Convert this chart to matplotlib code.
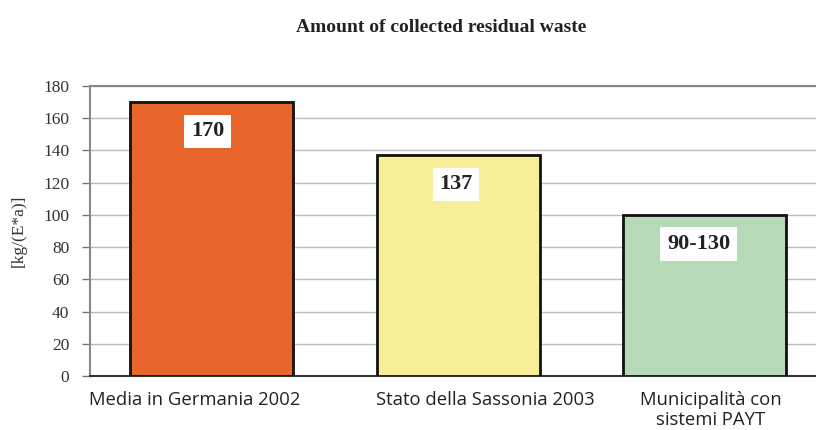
import matplotlib
matplotlib.use("Agg")
import matplotlib.pyplot as plt
from matplotlib.transforms import ScaledTranslation

categories = ["Media in Germania 2002", "Stato della Sassonia 2003", "Municipalità con\nsistemi PAYT"]
values = [170, 137, 100]
value_labels = ["170", "137", "90-130"]
colors = ["#E8652A", "#F7EF98", "#B6DAB8"]
yticks = [0, 20, 40, 60, 80, 100, 120, 140, 160, 180]

fig = plt.figure(figsize=(8.16, 4.30), dpi=100)
ax = fig.add_axes([90/816, 1 - 376/430, 1 - 90/816, (376 - 86)/430])

xs = list(range(len(categories)))
ax.bar(xs, values, width=0.661, color=colors, edgecolor="#111111", linewidth=2, zorder=3)
ax.set_xlim(-0.493, 2.452)
ax.set_ylim(0, 180)
ax.set_yticks(yticks)
ax.set_yticklabels([str(v) for v in yticks], family="Liberation Serif", fontsize=12.5, color="#333333")
ax.tick_params(axis="y", direction="out", length=6, width=1, color="#777777", pad=9)
ax.tick_params(axis="x", length=0, pad=11)
ax.set_xticks(xs)
ax.set_xticklabels(categories, family="Open Sans", fontsize=13.3, linespacing=1.15, color="#222222")
# category labels are placed slightly off the bar centres in the original
label_shift_px = [-17, 27, 6]
for lab, dxp in zip(ax.get_xticklabels(), label_shift_px):
    lab.set_transform(lab.get_transform() + ScaledTranslation(dxp / 100, 0, fig.dpi_scale_trans))

ax.yaxis.grid(True, color="#bbbbbb", linewidth=1, zorder=0)
for s in ["left", "top"]:
    ax.spines[s].set_color("#888888")
    ax.spines[s].set_linewidth(1.5)
ax.spines["bottom"].set_color("#333333")
ax.spines["bottom"].set_linewidth(1.5)
ax.spines["right"].set_visible(False)

label_dx = [-4, -2, -6]
for x, v, t, dx in zip(xs, values, value_labels, label_dx):
    ax.annotate(t, xy=(x, v), xytext=(dx * 0.72, -21), textcoords="offset points",
                ha="center", va="center", family="Liberation Serif",
                fontweight="bold", fontsize=16, color="#222222", zorder=5,
                bbox=dict(boxstyle="square,pad=0.3", fc="white", ec="none"))

ax.set_ylabel("[kg/(E*a)]", family="Liberation Serif", fontsize=12.5, color="#333333", labelpad=12)
fig.text(441/816, 1 - 27/430, "Amount of collected residual waste", ha="center", va="center",
         family="Liberation Serif", fontweight="bold", fontsize=14, color="#222222")

fig.savefig("out.png", dpi=100)
